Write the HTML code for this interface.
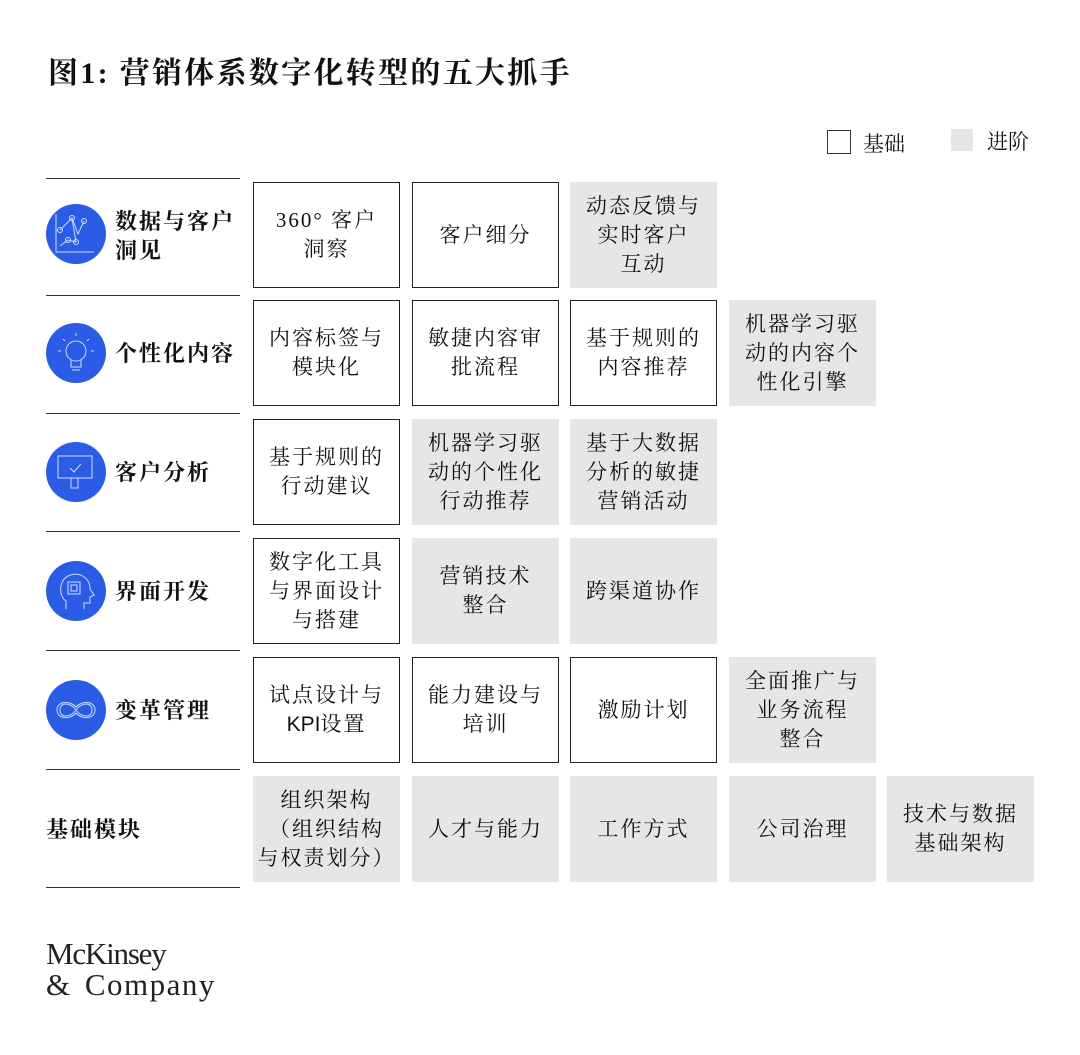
<!DOCTYPE html>
<html><head><meta charset="utf-8"><style>
body{margin:0;background:#fff;width:1080px;height:1055px;position:relative;overflow:hidden;font-family:"Liberation Serif","Noto Serif CJK SC",serif;color:#111}
.t{position:absolute;left:48px;top:48px;font-size:30px;font-weight:bold;letter-spacing:2.3px}
.ln{position:absolute;left:46px;width:194px;height:0;border-top:1.5px solid #333}
.b{position:absolute;width:147px;height:106px;box-sizing:border-box;display:flex;align-items:center;justify-content:center;text-align:center;font-size:21px;line-height:29px;letter-spacing:2px}
.w{border:1.5px solid #222;background:#fff}
.g{background:#e6e6e6}
.lab{position:absolute;left:115px;font-size:22px;font-weight:bold;line-height:29px;letter-spacing:2px}
.ic{position:absolute;left:46px;width:60px;height:60px;border-radius:50%;background:#2b5ce6}
.ic svg{width:60px;height:60px}
.lg{position:absolute;font-size:21px}
</style></head><body>
<div class="t">图1: 营销体系数字化转型的五大抓手</div>
<div style="position:absolute;left:827px;top:130px;width:22px;height:22px;border:1.5px solid #333"></div>
<div class="lg" style="left:863px;top:128px">基础</div>
<div style="position:absolute;left:951px;top:129px;width:22px;height:22px;background:#e6e6e6"></div>
<div class="lg" style="left:987px;top:126px">进阶</div>

<div class="ln" style="top:178px"></div><div class="ln" style="top:295px"></div><div class="ln" style="top:413px"></div><div class="ln" style="top:531px"></div><div class="ln" style="top:650px"></div><div class="ln" style="top:769px"></div><div class="ln" style="top:887px"></div>

<div class="ic" style="top:204px"><svg viewBox="0 0 60 60" fill="none" stroke="#cfdcff" stroke-width="1"><path d="M10 10V48H48"/><path d="M14 26L26 14L32 30L38 17"/><path d="M14 42L22 36L30 38L26 14"/><circle cx="14" cy="26" r="2.5"/><circle cx="26" cy="14" r="2.5"/><circle cx="38" cy="17" r="2.5"/><circle cx="22" cy="36" r="2.5"/><circle cx="30" cy="38" r="2.5"/></svg></div>
<div class="lab" style="top:207px">数据与客户<br>洞见</div>

<div class="ic" style="top:323px"><svg viewBox="0 0 60 60" fill="none" stroke="#cfdcff" stroke-width="1"><circle cx="30" cy="28" r="10"/><path d="M25 37V44H35V37M26 47H34M30 10V13M17 16L19 18M43 16L41 18M12 28H15M45 28H48"/></svg></div>
<div class="lab" style="top:339px">个性化内容</div>

<div class="ic" style="top:442px"><svg viewBox="0 0 60 60" fill="none" stroke="#cfdcff" stroke-width="1"><rect x="12" y="14" width="34" height="22"/><path d="M24 26L28 30L35 22M25 36V46H32V36"/></svg></div>
<div class="lab" style="top:458px">客户分析</div>

<div class="ic" style="top:561px"><svg viewBox="0 0 60 60" fill="none" stroke="#cfdcff" stroke-width="1"><path d="M20 48V40C13 36 12 20 22 15C32 10 44 16 44 28L48 34L44 36V42H38V48"/><rect x="22" y="21" width="12" height="12"/><rect x="25" y="24" width="6" height="6"/></svg></div>
<div class="lab" style="top:577px">界面开发</div>

<div class="ic" style="top:680px"><svg viewBox="0 0 60 60" fill="none" stroke="#cfdcff" stroke-width="1"><path d="M30 30C24 22 14 22 14 30C14 38 24 38 30 30C36 22 46 22 46 30C46 38 36 38 30 30Z"/><path d="M30 33C24 40 11 39 11 30C11 21 24 20 30 27C36 20 49 21 49 30C49 39 36 40 30 33Z"/></svg></div>
<div class="lab" style="top:696px">变革管理</div>

<div class="lab" style="left:46px;top:815px">基础模块</div>

<div class="b w" style="left:253px;top:182px"><div>360° 客户<br>洞察</div></div>
<div class="b w" style="left:412px;top:182px"><div>客户细分</div></div>
<div class="b g" style="left:570px;top:182px"><div>动态反馈与<br>实时客户<br>互动</div></div>

<div class="b w" style="left:253px;top:300px"><div>内容标签与<br>模块化</div></div>
<div class="b w" style="left:412px;top:300px"><div>敏捷内容审<br>批流程</div></div>
<div class="b w" style="left:570px;top:300px"><div>基于规则的<br>内容推荐</div></div>
<div class="b g" style="left:729px;top:300px"><div>机器学习驱<br>动的内容个<br>性化引擎</div></div>

<div class="b w" style="left:253px;top:419px"><div>基于规则的<br>行动建议</div></div>
<div class="b g" style="left:412px;top:419px"><div>机器学习驱<br>动的个性化<br>行动推荐</div></div>
<div class="b g" style="left:570px;top:419px"><div>基于大数据<br>分析的敏捷<br>营销活动</div></div>

<div class="b w" style="left:253px;top:538px"><div>数字化工具<br>与界面设计<br>与搭建</div></div>
<div class="b g" style="left:412px;top:538px"><div>营销技术<br>整合</div></div>
<div class="b g" style="left:570px;top:538px"><div>跨渠道协作</div></div>

<div class="b w" style="left:253px;top:657px"><div>试点设计与<br><span style="font-family:'Liberation Sans',sans-serif;letter-spacing:0">KPI</span>设置</div></div>
<div class="b w" style="left:412px;top:657px"><div>能力建设与<br>培训</div></div>
<div class="b w" style="left:570px;top:657px"><div>激励计划</div></div>
<div class="b g" style="left:729px;top:657px"><div>全面推广与<br>业务流程<br>整合</div></div>

<div class="b g" style="left:253px;top:776px"><div>组织架构<br>（组织结构<br>与权责划分）</div></div>
<div class="b g" style="left:412px;top:776px"><div>人才与能力</div></div>
<div class="b g" style="left:570px;top:776px"><div>工作方式</div></div>
<div class="b g" style="left:729px;top:776px"><div>公司治理</div></div>
<div class="b g" style="left:887px;top:776px"><div>技术与数据<br>基础架构</div></div>

<div style="position:absolute;left:46px;top:938px;font-size:31px;line-height:31px;letter-spacing:-1.2px;color:#222">McKinsey<br><span style="letter-spacing:1.5px;word-spacing:4px">&amp; Company</span></div>
</body></html>
